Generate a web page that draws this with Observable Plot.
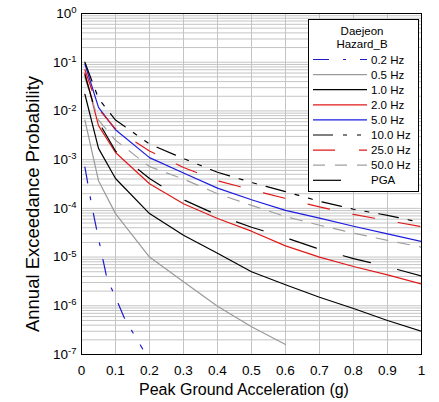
<!DOCTYPE html>
<html><head><meta charset="utf-8">
<script src="https://cdn.jsdelivr.net/npm/d3@7"></script>
<script src="https://cdn.jsdelivr.net/npm/@observablehq/plot@0.6"></script>
<style>
body{margin:0;background:#fff}
#chart{position:relative;width:439px;height:402px}
</style>
</head><body><div id="chart"></div>
<script>
// Peak ground acceleration (g) sample points
const accel = [0.01, 0.05, 0.1, 0.2, 0.3, 0.4, 0.5, 0.6, 0.7, 0.8, 0.9, 1.0];
const accel02 = [0.01, 0.03, 0.05, 0.075, 0.1, 0.125, 0.15, 0.18];

// Annual exceedance probability per series
const hz02  = [7e-4, 1.15e-4, 2.4e-5, 3.6e-6, 1.5e-6, 5.8e-7, 2.9e-7, 1.3e-7];
const hz05  = [6.5e-3, 3.7e-4, 7.8e-5, 1.0e-5, 3.1e-6, 9.8e-7, 3.7e-7, 1.6e-7, null, null, null, null];
const hz10  = [0.022, 1.7e-3, 4.1e-4, 7.8e-5, 2.8e-5, 1.2e-5, 5.0e-6, 2.7e-6, 1.5e-6, 8.8e-7, 5.0e-7, 3.0e-7];
const hz20  = [0.06, 5e-3, 1.4e-3, 3.2e-4, 1.24e-4, 6.2e-5, 3.4e-5, 1.7e-5, 1.0e-5, 6.4e-6, 4.3e-6, 2.8e-6];
const hz50  = [0.092, 0.0118, 4.1e-3, 1.1e-3, 5.3e-4, 2.6e-4, 1.5e-4, 9.1e-5, 6.3e-5, 4.3e-5, 3.0e-5, 2.1e-5];
const hz100 = [0.1, 0.018, 6.5e-3, 2.1e-3, 1.05e-3, 5.5e-4, 3.4e-4, 2.2e-4, 1.4e-4, 9.6e-5, 7.2e-5, 5.1e-5];
const hz250 = [0.07, 0.011, 4.3e-3, 1.5e-3, 6.9e-4, 3.7e-4, 2.4e-4, 1.6e-4, 1.07e-4, 7.5e-5, 5.6e-5, 4.2e-5];
const hz500 = [0.048, 6.5e-3, 2.5e-3, 7.2e-4, 4.0e-4, 2.0e-4, 1.15e-4, 6.8e-5, 4.5e-5, 3.1e-5, 2.2e-5, 1.6e-5];
const pga   = [0.055, 6e-3, 1.5e-3, 4.1e-4, 1.5e-4, 7.3e-5, 4.1e-5, 2.5e-5, 1.45e-5, 9.3e-6, 6.3e-6, 4.1e-6];

const seriesNames = ["0.2 Hz","0.5 Hz","1.0 Hz","2.0 Hz","5.0 Hz","10.0 Hz","25.0 Hz","50.0 Hz","PGA"];
const legendTitle = ["Daejeon", "Hazard_B"];
const xTickValues = [0,0.1,0.2,0.3,0.4,0.5,0.6,0.7,0.8,0.9,1];
const decadeTicks = [1e-7,1e-6,1e-5,1e-4,1e-3,1e-2,1e-1,1];
const xTitle = "Peak Ground Acceleration (g)";
const yTitle = "Annual Exceedance Probability";

const styles = [
  {color:"#1c1ccc", dash:"16,14,3,14"},
  {color:"#9a9a9a", dash:null},
  {color:"#000000", dash:null},
  {color:"#e01818", dash:null},
  {color:"#1c1ce0", dash:null},
  {color:"#000000", dash:"20,10,4,10,4,10"},
  {color:"#e01818", dash:"22,24"},
  {color:"#a0a0a0", dash:"12,10"},
  {color:"#000000", dash:"28,28"}
];
const seriesX = [accel02, accel, accel, accel, accel, accel, accel, accel, accel];
const seriesY = [hz02, hz05, hz10, hz20, hz50, hz100, hz250, hz500, pga];

const minorTicks = [];
for (let k = -7; k < 0; k++) for (let m = 1; m <= 9; m++) minorTicks.push(m * Math.pow(10, k));
minorTicks.push(1);

const lineMarks = seriesNames.map((name, i) => {
  const data = seriesX[i].map((x, j) => ({x, y: seriesY[i][j]})).filter(d => d.y != null);
  return Plot.line(data, {x: "x", y: "y", stroke: styles[i].color, strokeWidth: 1.2,
    strokeDasharray: styles[i].dash || undefined, clip: true});
});

const chart = Plot.plot({
  width: 439, height: 402,
  marginLeft: 81, marginRight: 18, marginTop: 13, marginBottom: 48,
  x: {domain: [0, 1]},
  y: {type: "log", domain: [1e-7, 1]},
  style: {fontFamily: "'Liberation Sans', Arial, sans-serif", fontSize: "13.5px", color: "black", background: "white"},
  marks: [
    Plot.gridX(xTickValues, {stroke: "#c4c4c4", strokeOpacity: 1}),
    Plot.gridY(minorTicks, {stroke: "#c4c4c4", strokeOpacity: 1}),
    ...lineMarks,
    Plot.frame({stroke: "black"}),
    Plot.axisX(xTickValues, {tickSize: 0, tickPadding: 11, label: null,
      tickFormat: d => d === 0 ? "0" : d === 1 ? "1" : d.toFixed(1)}),
    Plot.axisY(decadeTicks, {tickSize: 0, tickPadding: 5, label: null,
      tickFormat: d => "10^" + Math.round(Math.log10(d))})
  ]
});
document.getElementById("chart").appendChild(chart);

const svg = d3.select(chart);
svg.selectAll("text").each(function() {
  const t = this.textContent;
  if (/^10\^/.test(t)) {
    const exp = t.slice(3);
    const sel = d3.select(this);
    sel.text("10");
    sel.append("tspan").attr("dy", "-0.5em").attr("font-size", "9.5px").text(exp);
  }
});

// axis titles
svg.append("text").attr("x", 244).attr("y", 395).attr("text-anchor", "middle")
  .attr("font-size", "16px").attr("fill", "black").text(xTitle);
svg.append("text").attr("transform", "translate(39,204) rotate(-90)").attr("text-anchor", "middle")
  .attr("font-size", "18.5px").attr("fill", "black").text(yTitle);

// legend
const lg = svg.append("g").attr("text-anchor", "start");
lg.append("rect").attr("x", 308.5).attr("y", 19.5).attr("width", 110).attr("height", 172)
  .attr("fill", "white").attr("stroke", "black");
legendTitle.forEach((t, i) => {
  lg.append("text").attr("x", 362).attr("y", 34.5 + i * 13).attr("text-anchor", "middle")
    .attr("font-size", "11.5px").attr("fill", "black").text(t);
});
seriesNames.forEach((name, i) => {
  const cy = 59.5 + i * 15.1;
  lg.append("line").attr("x1", 313).attr("x2", 367).attr("y1", cy).attr("y2", cy)
    .attr("stroke", styles[i].color).attr("stroke-width", 1.2)
    .attr("stroke-dasharray", styles[i].dash || null);
  lg.append("text").attr("x", 371).attr("y", cy).attr("dy", "0.36em").attr("text-anchor", "start")
    .attr("font-size", "11.5px").attr("fill", "black").text(name);
});
</script>
</body></html>
